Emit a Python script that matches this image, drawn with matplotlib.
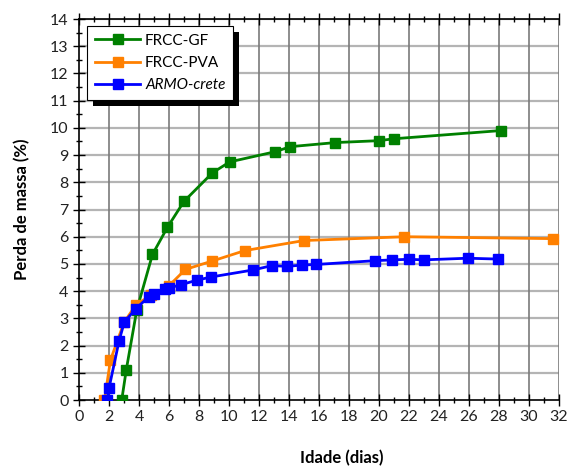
import matplotlib
matplotlib.use("Agg")
import matplotlib.pyplot as plt
from matplotlib.ticker import MultipleLocator
from matplotlib.patches import Rectangle

plt.rcParams['font.family'] = ['Lato', 'DejaVu Sans']

# Mass loss (%) versus age (days)
gf_days = [2.85, 3.15, 3.85, 4.9, 5.9, 7.0, 8.9, 10.05, 13.05, 14.1, 17.1, 20.0, 21.0, 28.1]
gf_loss = [0.0, 1.1, 3.3, 5.35, 6.35, 7.3, 8.35, 8.75, 9.12, 9.31, 9.46, 9.53, 9.6, 9.9]

pva_days = [1.7, 2.1, 3.0, 3.8, 4.8, 6.0, 7.1, 8.9, 11.05, 15.0, 21.7, 31.6]
pva_loss = [0.0, 1.47, 2.85, 3.5, 3.85, 4.2, 4.8, 5.11, 5.49, 5.86, 6.0, 5.93]

armo_days = [1.9, 2.0, 2.67, 3.02, 3.78, 4.67, 5.0, 5.71, 6.02, 6.82, 7.84, 8.8,
             11.62, 12.87, 13.87, 14.87, 15.8, 19.75, 20.9, 21.98, 23.0, 25.9, 27.9]
armo_loss = [0.0, 0.43, 2.17, 2.86, 3.35, 3.8, 3.9, 4.09, 4.12, 4.24, 4.4, 4.52,
             4.78, 4.94, 4.91, 4.96, 4.98, 5.12, 5.15, 5.17, 5.15, 5.21, 5.18]

x_ticks = list(range(0, 33, 2))
y_ticks = list(range(0, 15))

fig = plt.figure(figsize=(5.67, 4.66), dpi=100)
ax = fig.add_axes([0.1393, 0.1416, 0.8466, 0.8176])

style = dict(lw=2.0, marker='s', markersize=7)
ax.plot(gf_days, gf_loss, color='#008000', label='FRCC-GF', zorder=3, **style)
ax.plot(pva_days, pva_loss, color='#ff8000', label='FRCC-PVA', zorder=4, **style)
ax.plot(armo_days, armo_loss, color='#0000ff', label='ARMO-crete', zorder=5, **style)

ax.set_xlim(0, 32)
ax.set_ylim(0, 14)
ax.set_xticks(x_ticks)
ax.set_yticks(y_ticks)
ax.xaxis.set_minor_locator(MultipleLocator(1))
ax.yaxis.set_minor_locator(MultipleLocator(0.5))

# grid: vertical every 2 days, horizontal every 1 %
for xv in x_ticks[1:]:
    ax.axvline(xv, color='#7a7a7a', lw=1.2, zorder=1)
for yv in y_ticks[1:]:
    ax.axhline(yv, color='#b4b4b4', lw=1.6, zorder=0.9)

ax.tick_params(axis='both', which='major', direction='inout', length=8, width=1,
               colors='black', labelcolor='#222222')
ax.tick_params(axis='both', which='minor', direction='inout', length=5, width=1)
ax.tick_params(axis='x', which='both', top=True)
ax.tick_params(axis='x', which='major', pad=3)
for lab in ax.get_xticklabels() + ax.get_yticklabels():
    lab.set_fontsize(11.5)

ax.spines['right'].set_visible(False)
for s in ('left', 'bottom', 'top'):
    ax.spines[s].set_linewidth(1.2)
    ax.spines[s].set_color('black')

ax.set_xlabel('Idade (dias)', fontsize=12, fontweight='bold', labelpad=19)
ax.xaxis.label.set_x(0.548)
ax.set_ylabel('Perda de massa (%)', fontsize=12, fontweight='bold', labelpad=14)

leg = ax.legend(loc='upper left', bbox_to_anchor=(0.0167, 0.982), borderaxespad=0,
                fancybox=False, edgecolor='black', framealpha=1, fontsize=11,
                handlelength=3.0, handletextpad=0.3, labelspacing=0.55,
                borderpad=0.5)
leg.get_frame().set_linewidth(0.8)
leg.texts[2].set_fontstyle('italic')
leg.set_zorder(10)

# drop shadow behind the legend box
fig.canvas.draw()
bb = leg.get_window_extent()
inv = ax.transAxes.inverted()
off = 6
(x0, y0) = inv.transform((bb.x0 + off, bb.y0 - off))
(x1, y1) = inv.transform((bb.x1 + off, bb.y1 - off))
ax.add_patch(Rectangle((x0, y0), x1 - x0, y1 - y0, transform=ax.transAxes,
                       facecolor='black', edgecolor='none', zorder=9, clip_on=False))

fig.savefig('out.png', dpi=100)
